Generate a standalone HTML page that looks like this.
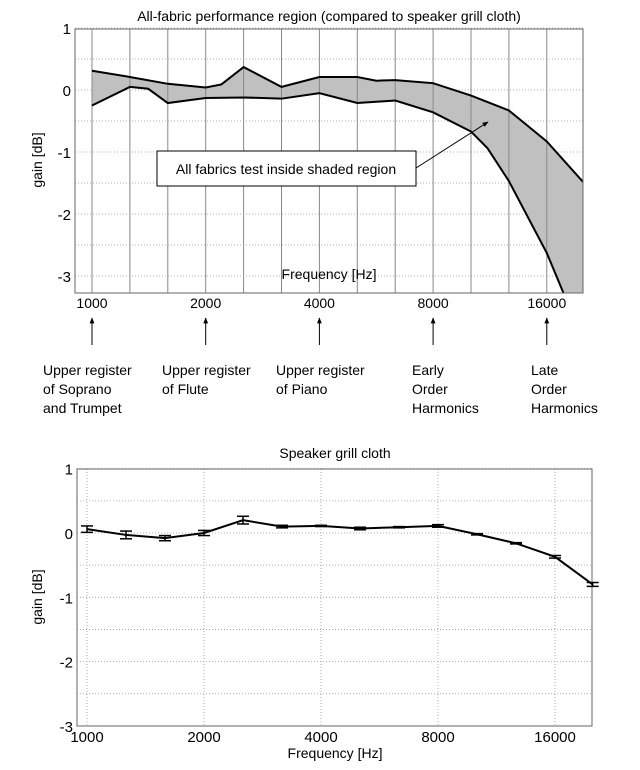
<!DOCTYPE html>
<html><head><meta charset="utf-8"><style>
body{margin:0;background:#fff;}
svg{display:block;font-family:"Liberation Sans",Arial,sans-serif;}
</style></head><body>
<svg id="fig" width="640" height="770" viewBox="0 0 640 770" xmlns="http://www.w3.org/2000/svg">
<defs><marker id="ah" viewBox="0 0 10 10" refX="9" refY="5" markerWidth="6" markerHeight="6" orient="auto"><path d="M0,1 L10,5 L0,9 z" fill="#000"/></marker></defs>
<g id="topchart"></g>
<g id="botchart"></g>
</svg>
<script>
// ---- Top chart data ----
const topUpperFreq=[1000,1260,1587,2000,2200,2520,3175,4000,5040,5657,6350,8000,10080,12700,16000,20080];
const topUpperGain=[0.31,0.21,0.10,0.04,0.09,0.37,0.05,0.21,0.21,0.15,0.16,0.11,-0.09,-0.33,-0.83,-1.5];
const topLowerFreq=[1000,1260,1409,1587,2000,2520,3175,4000,5040,6350,8000,10080,11150,12700,16000,17700];
const topLowerGain=[-0.25,0.05,0.02,-0.21,-0.13,-0.12,-0.14,-0.05,-0.21,-0.17,-0.36,-0.67,-0.94,-1.47,-2.63,-3.27];
const xTickLabels=[1000,2000,4000,8000,16000];
const yTickLabels=[1,0,-1,-2,-3];
const noteLabels=[["Upper register","of Soprano","and Trumpet"],["Upper register","of Flute"],["Upper register","of Piano"],["Early","Order","Harmonics"],["Late","Order","Harmonics"]];
// ---- Bottom chart data ----
const botFreq=[1000,1260,1587,2000,2520,3175,4000,5040,6350,8000,10080,12700,16000,20000];
const botGain=[0.06,-0.03,-0.08,0.0,0.2,0.1,0.11,0.07,0.09,0.11,-0.02,-0.16,-0.37,-0.8];
const botErr=[0.05,0.06,0.04,0.04,0.06,0.02,0.01,0.02,0.01,0.02,0.01,0.01,0.02,0.03];

const NS="http://www.w3.org/2000/svg";
function mk(p,t,a,txt){const el=document.createElementNS(NS,t);for(const k in a)el.setAttribute(k,a[k]);if(txt!==undefined)el.textContent=txt;p.appendChild(el);return el;}

// top axes
const T={l:75,r:583,t:29,b:293,x0:92,oct:113.7,y0:90,dy:62};
const tx=f=>T.x0+Math.log2(f/1000)*T.oct, ty=g=>T.y0-g*T.dy;
const topG=document.getElementById('topchart');
mk(mk(document.querySelector('defs'),'clipPath',{id:'tclip'}),'rect',{x:T.l,y:T.t,width:T.r-T.l,height:T.b-T.t});
let e;
e=mk(topG,'text',{x:329,y:21,'text-anchor':'middle','font-size':14},"All-fabric performance region  (compared to speaker grill cloth)");


mk(topG,'rect',{x:T.l,y:T.t,width:T.r-T.l,height:T.b-T.t,fill:'#fff'});
for(let g=1;g>=-3;g-=0.5){const y=ty(g);if(y>T.b)continue;mk(topG,'line',{x1:T.l,x2:T.r,y1:y,y2:y,stroke:'#999','stroke-dasharray':'1,2','stroke-width':0.8});}
let pts=topUpperFreq.map((f,i)=>tx(f)+','+ty(topUpperGain[i]));
const lowPts=topLowerFreq.map((f,i)=>tx(f)+','+ty(topLowerGain[i]));
const lowRev=lowPts.slice().reverse();
e=mk(topG,'polygon',{points:pts.concat([T.r+','+T.b],lowRev).join(' '),fill:'#c0c0c0',stroke:'none','clip-path':'url(#tclip)'});


for(let k=0;k<=13;k++){const x=T.x0+k*T.oct/3;if(x>T.r)break;mk(topG,'line',{x1:x,x2:x,y1:T.t,y2:T.b,stroke:'#888','stroke-width':1});}
e=mk(topG,'polyline',{points:pts.join(' '),fill:'none',stroke:'#000','stroke-width':2,'clip-path':'url(#tclip)'});


e=mk(topG,'polyline',{points:lowPts.join(' '),fill:'none',stroke:'#000','stroke-width':2,'clip-path':'url(#tclip)'});


mk(topG,'rect',{x:T.l,y:T.t,width:T.r-T.l,height:T.b-T.t,fill:'none',stroke:'#666','stroke-width':1});
yTickLabels.forEach(v=>{e=mk(topG,'text',{x:T.l-4,y:ty(v)+6,'text-anchor':'end','font-size':15},String(v));

});
xTickLabels.forEach((v,i)=>{const x=tx(v);
e=mk(topG,'text',{x:x,y:308,'text-anchor':'middle','font-size':14},String(v));


mk(topG,'line',{x1:x,x2:x,y1:345,y2:318,stroke:'#000','stroke-width':1,'marker-end':'url(#ah)'});
const lx=[43,162,276,412,531][i];
noteLabels[i].forEach((s,j)=>{e=mk(topG,'text',{x:lx,y:375+j*19,'font-size':14},s);

});
});
e=mk(topG,'text',{x:329,y:279,'text-anchor':'middle','font-size':14},"Frequency [Hz]");


e=mk(topG,'text',{x:0,y:0,'text-anchor':'middle','font-size':14,transform:'translate(42,160) rotate(-90)'},"gain [dB]");


e=mk(topG,'rect',{x:157,y:151,width:259,height:35,fill:'#fff',stroke:'#000','stroke-width':1});


mk(topG,'text',{x:286,y:174,'text-anchor':'middle','font-size':14},"All fabrics test inside shaded region");
mk(topG,'line',{x1:416,y1:168,x2:488,y2:122,stroke:'#000','stroke-width':1,'marker-end':'url(#ah)'});

// bottom axes
const B={l:77,r:592,t:469,b:726,x0:87,oct:117,y0:533,dy:64.3};
const bx=f=>B.x0+Math.log2(f/1000)*B.oct, by=g=>B.y0-g*B.dy;
const botG=document.getElementById('botchart');
e=mk(botG,'text',{x:335,y:458,'text-anchor':'middle','font-size':14},"Speaker grill cloth");


for(let g=1;g>=-3;g-=0.5){const y=by(g);mk(botG,'line',{x1:B.l,x2:B.r,y1:y,y2:y,stroke:'#999','stroke-dasharray':'1,2','stroke-width':0.8});}
xTickLabels.forEach(v=>{const x=bx(v);mk(botG,'line',{x1:x,x2:x,y1:B.t,y2:B.b,stroke:'#999','stroke-dasharray':'1,2','stroke-width':0.8});
e=mk(botG,'text',{x:x,y:742,'text-anchor':'middle','font-size':15},String(v));

});
mk(botG,'rect',{x:B.l,y:B.t,width:B.r-B.l,height:B.b-B.t,fill:'none',stroke:'#666','stroke-width':1});
yTickLabels.forEach(v=>{e=mk(botG,'text',{x:B.l-4,y:by(v)+6,'text-anchor':'end','font-size':15},String(v));

});
e=mk(botG,'polyline',{points:botFreq.map((f,i)=>bx(f)+','+by(botGain[i])).join(' '),fill:'none',stroke:'#000','stroke-width':2});


botFreq.forEach((f,i)=>{const x=bx(f),y1=by(botGain[i]+botErr[i]),y2=by(botGain[i]-botErr[i]);
const g=mk(botG,'g',{stroke:'#000','stroke-width':1.5});


mk(g,'line',{x1:x,x2:x,y1:y1,y2:y2});mk(g,'line',{x1:x-6,x2:x+6,y1:y1,y2:y1});mk(g,'line',{x1:x-6,x2:x+6,y1:y2,y2:y2});});
e=mk(botG,'text',{x:335,y:758,'text-anchor':'middle','font-size':14},"Frequency [Hz]");


e=mk(botG,'text',{x:0,y:0,'text-anchor':'middle','font-size':14,transform:'translate(42,597) rotate(-90)'},"gain [dB]");


</script>
</body></html>
